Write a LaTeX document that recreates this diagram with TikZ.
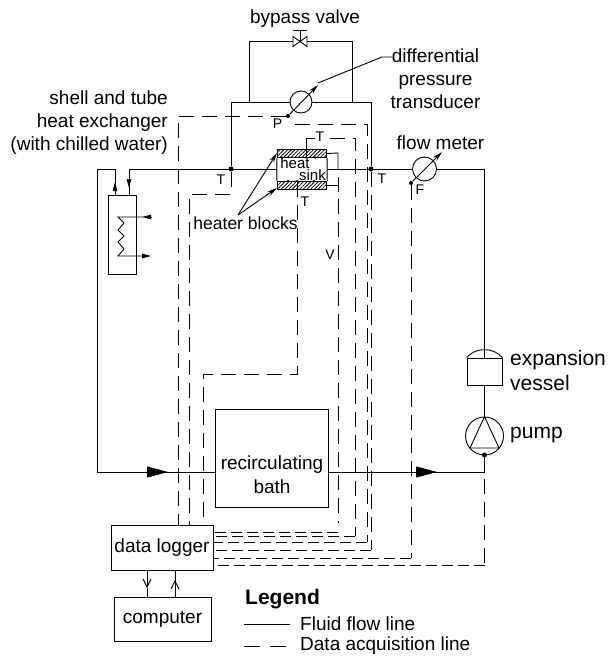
\documentclass[tikz,border=0pt]{standalone}
\usepackage{fontspec}
\setmainfont{Liberation Sans}
\usetikzlibrary{arrows.meta, patterns.meta}
\tikzset{
  fline/.style={draw=black, line width=0.9pt},
  dline/.style={draw=black, line width=0.9pt, dash pattern=on 15pt off 8pt},
  dbus/.style={draw=black, line width=0.9pt, dash pattern=on 11pt off 5pt},
  unit/.style={rectangle, draw=black, line width=0.9pt, inner sep=0pt},
  wheel/.style={circle, draw=black, line width=0.9pt, inner sep=0pt},
  hatchblock/.style={unit, minimum width=49.5pt, minimum height=8.5pt,
    pattern={Lines[angle=45, distance=2.6pt, line width=0.8pt]}},
  joint/.style={circle, fill=black, inner sep=0pt, minimum size=#1},
  joint/.default=2.5pt,
  lbl/.style={font=\fontsize{19}{23}\selectfont, inner sep=0pt, align=center},
  biglbl/.style={lbl, font=\fontsize{21}{25}\selectfont},
  tag/.style={font=\fontsize{14}{16}\selectfont, inner sep=0pt},
  bigarr/.style={-{Triangle[length=21pt, width=11pt]}, line width=0.9pt},
  smallarr/.style={-{Triangle[length=9pt, width=4.5pt]}, line width=0.9pt},
  openarr/.style={-{Straight Barb[length=8pt, width=8pt]}, line width=0.9pt},
  leader/.style={-{Stealth[length=10pt, width=5pt]}, line width=0.9pt},
}
\tikzset{
  % bypass valve, two triangles and a stem
  valveicon/.pic={
    \draw[fline] (-7,-5) -- (7,5) -- (7,-5) -- (-7,5) -- cycle;
    \draw[fline] (0,0) -- (0,-11);
    \draw[fline] (-7,-11) -- (7,-11);
  },
}
\begin{document}
\begin{tikzpicture}[x=1pt, y=-1pt]
  \useasboundingbox (0,0) rectangle (610,658);

  % units
  \node[unit, minimum width=28.5pt, minimum height=79pt] (hx) at (122.3,234.5) {};
  \node[unit, minimum width=113pt, minimum height=98pt] (bath) at (272,458) {};
  \node[unit, minimum width=35pt, minimum height=27pt] (vessel) at (484.5,371.5) {};
  \node[wheel, minimum size=38pt] (pump) at (484.5,436) {};
  \node[wheel, minimum size=22pt] (dpt) at (301,102) {};
  \node[wheel, minimum size=24pt] (fm) at (424.5,169) {};
  \node[unit, minimum width=102pt, minimum height=45pt, lbl] (logger) at (162,547.5) {data logger};
  \node[unit, minimum width=97pt, minimum height=44pt, lbl] (computer) at (162.5,619) {computer};
  \node[hatchblock] (blocktop) at (302,153.5) {};
  \node[hatchblock] (blockbot) at (302,185.5) {};

  % tappings and sensor points
  \node[joint=5pt] (tapl) at (231,169) {};
  \node[joint=5pt] (tapr) at (371,169) {};
  \node[joint=4pt] (pdot) at (288,116) {};
  \node[joint=4pt] (fdot) at (411,183) {};
  \node[joint=5pt] (pumpdot) at (484.5,455) {};
  \node[joint] (s1) at (282,157.5) {};
  \node[joint] (s2) at (306,157.5) {};
  \node[joint] (s3) at (315,157.5) {};
  \node[joint] (s4) at (288,181) {};
  \node[joint] (s5) at (297,181) {};
  \node[joint] (s6) at (314,181) {};

  \coordinate (valve) at (300,41.5);
  \coordinate (sinkl) at (blocktop.south west |- tapl);
  \coordinate (sinkr) at (blocktop.south east |- tapl);
  \coordinate (return) at (97,472);
  \coordinate (inhx) at (115,169);
  \coordinate (outhx) at (129,169);

  % fluid flow lines
  \draw[fline] (blocktop.south west) -- (blockbot.north west);
  \draw[fline] (blocktop.south east) -- (blockbot.north east);
  \draw[fline] (outhx) -- (sinkl);
  \draw[fline] (sinkr) -- (fm);
  \draw[fline] (fm) -- (484.5,169) -- (vessel.north);
  \draw[fline] (vessel.south) -- (pump);
  \draw[fline] (pump.south) -- (484.5,472) -- (bath.east |- return);
  \draw[fline] (bath.west |- return) -- (return) -- (97,169) -- (inhx);
  \draw[fline] (vessel.north west) .. controls (476,347) and (493,347) .. (vessel.north east);
  \draw[fline] (pump.north) -- (470,448) -- (499,448) -- cycle;
  \draw[bigarr] (147,472) -- (168,472);
  \draw[bigarr] (415,472) -- (437,472);

  % differential pressure loop and bypass
  \draw[fline] (tapl) -- (231,102) -- (dpt);
  \draw[fline] (dpt) -- (371,102) -- (tapr);
  \draw[fline] (249.5,102) -- (249.5,41.5) -- (293,41.5);
  \draw[fline] (307,41.5) -- (352,41.5) -- (352,102);
  \pic at (valve) {valveicon};

  % heat exchanger connections and coil
  \draw[smallarr] (115,195) -- (115,182);
  \draw[fline] (115,184) -- (inhx);
  \draw[smallarr] (outhx) -- (129,188);
  \draw[fline] (129,186) -- (129,195);
  \draw[smallarr] (151,217) -- (142,217);
  \draw[fline] (143,217) -- (118,217) -- (124,223) -- (118,230) -- (124,236)
    -- (118,242) -- (124,249) -- (118,256) -- (143,256);
  \draw[smallarr] (142,256) -- (151,256);

  % data acquisition lines
  \draw[dline] (pdot) -- (178,116) -- (178,525);
  \draw[dline] (tapl) -- (231,194) -- (189,194) -- (189,525);
  \draw[dline] (s5) -- (297,374) -- (203,374) -- (203,525);
  \draw[fline] (blocktop.east) -- (338,153) -- (338,170);
  \draw[fline] (327,185) -- (338,185);
  \draw[fline] (338,177) -- (338,192);
  \draw[dline] (338,199) -- (338,523);
  \draw[dbus] (338,532) -- (213,532);
  \draw[fline] (s2) -- (306,138) -- (315,138);
  \draw[dline] (330,138) -- (355,138) -- (355,536);
  \draw[dbus] (355,536) -- (213,536);
  \draw[dline] (295,124) -- (367,124) -- (367,542);
  \draw[dbus] (367,542) -- (213,542);
  \draw[dline] (tapr) -- (371,550);
  \draw[dbus] (371,550) -- (213,550);
  \draw[dline] (fdot) -- (411,558);
  \draw[dbus] (411,558) -- (213,558);
  \draw[dline] (484.5,479) -- (484.5,565);
  \draw[dbus] (484.5,565) -- (213,565);

  % logger to computer
  \draw[openarr] (147,570) -- (147,588);
  \draw[fline] (147,588) -- (147,597);
  \draw[fline] (175,597) -- (175,580);
  \draw[openarr] (175,590) -- (175,580);
  \draw[fline] (175,580) -- (175,570);

  % instrument pointers
  \draw[leader] (pdot) -- (318,85);
  \draw[fline] (318,83) -- (382,57) -- (392,57);
  \draw[leader] (fdot) -- (442,152);
  \coordinate (blockfan) at (238,215);
  \draw[leader] (blockfan) -- (277,153);
  \draw[leader] (blockfan) -- (277,188);

  % labels
  \node[lbl] (bypasslbl) at (305,19) {bypass valve};
  \node[lbl] (dptlbl) at (435.5,79) {differential\\pressure\\transducer};
  \node[lbl, anchor=east, align=right] (hxlbl) at (168,123) {shell and tube\\heat exchanger\\(with chilled water)};
  \node[lbl] (fmlbl) at (440.5,143) {flow meter};
  \node[lbl, font=\fontsize{17.5}{20}\selectfont] (blocklbl) at (245.5,223) {heater blocks};
  \node[lbl, font=\fontsize{15}{18}\selectfont] (heatlbl) at (295,163.5) {heat};
  \node[lbl, font=\fontsize{15}{18}\selectfont] (sinklbl) at (312.5,175.5) {sink};
  \node[lbl] (bathlbl) at (272,465) {recirculating};
  \node[lbl] (bathlblb) at (272,487) {bath};
  \node[biglbl, anchor=west, align=left] (vessellbl) at (510,370.5) {expansion\\vessel};
  \node[biglbl, anchor=west] (pumplbl) at (510,435) {pump};
  \node[tag] at (221,180) {T};
  \node[tag] at (382,179) {T};
  \node[tag] at (320,137) {T};
  \node[tag] at (305,202) {T};
  \node[tag] at (277.5,124) {P};
  \node[tag] at (420,190) {F};
  \node[tag] at (330,255) {V};

  % legend
  \node[lbl, anchor=west, font=\fontsize{21}{25}\selectfont\bfseries] (legend) at (245,599) {Legend};
  \draw[fline] (244,624) -- (290,624);
  \draw[fline, dash pattern=on 16pt off 10pt] (244,646) -- (286,646);
  \node[lbl, anchor=west] (fluidlbl) at (300,624) {Fluid flow line};
  \node[lbl, anchor=west] (acqlbl) at (300,646) {Data acquisition line};
\end{tikzpicture}
\end{document}
